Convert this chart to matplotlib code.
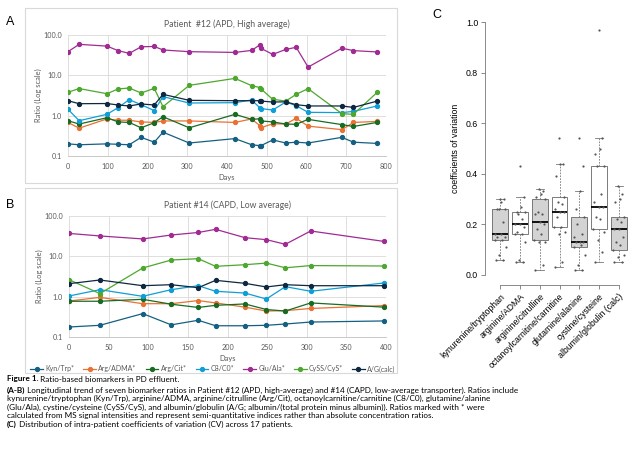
import numpy as np
import matplotlib
matplotlib.use("Agg")
import matplotlib.pyplot as plt
from matplotlib.ticker import FixedLocator, FixedFormatter, NullLocator

# ---- panel A: patient #12 (APD, high average) ----
days_a = [0, 28, 98, 126, 154, 184, 217, 239, 305, 420, 462, 484, 485, 515, 548, 574, 604, 689, 718, 778]
kyn_a = [0.20, 0.19, 0.20, 0.195, 0.19, 0.29, 0.22, 0.39, 0.21, 0.27, 0.19, 0.18, 0.18, 0.25, 0.21, 0.22, 0.21, 0.29, 0.22, 0.205]
adma_a = [0.68, 0.49, 0.83, 0.77, 0.77, 0.70, 0.68, 0.74, 0.74, 0.68, 0.83, 0.55, 0.50, 0.63, 0.62, 0.86, 0.55, 0.45, 0.68, 0.72]
cit_a = [0.75, 0.62, 0.89, 0.70, 0.68, 0.50, 0.67, 0.94, 0.50, 1.08, 0.81, 0.84, 0.74, 0.70, 0.62, 0.61, 0.81, 0.60, 0.54, 0.68]
c8_a = [1.44, 0.75, 1.08, 1.58, 2.50, 1.87, 1.33, 2.96, 2.06, 2.10, 2.45, 1.52, 1.50, 1.38, 2.18, 1.77, 1.21, 1.19, 1.28, 1.74]
glu_a = [38.6, 58.7, 53, 41, 35, 51, 52, 42.5, 38.6, 37, 41.5, 58, 47, 33, 44, 49.5, 16, 47, 41, 38]
cyss_a = [3.8, 4.7, 3.5, 4.6, 4.85, 3.65, 4.75, 1.67, 5.65, 8.4, 5.55, 4.95, 4.65, 2.54, 2.3, 3.38, 4.67, 1.12, 1.08, 3.8]
ag_a = [2.35, 1.98, 2.0, 1.84, 1.74, 1.95, 1.84, 3.38, 2.4, 2.35, 2.35, 2.35, 2.3, 2.18, 2.2, 1.87, 1.74, 1.74, 1.6, 2.3]

# ---- panel B: patient #14 (CAPD, low average) ----
days_b = [0, 39, 93, 129, 163, 185, 222, 249, 273, 305, 397]
kyn_b = [0.177, 0.195, 0.38, 0.20, 0.26, 0.19, 0.19, 0.195, 0.21, 0.235, 0.25]
adma_b = [0.78, 0.96, 0.67, 0.67, 0.80, 0.70, 0.55, 0.44, 0.45, 0.51, 0.60]
cit_b = [0.77, 0.77, 0.86, 0.65, 0.54, 0.61, 0.66, 0.48, 0.44, 0.70, 0.55]
c8_b = [1.04, 1.49, 1.02, 1.49, 1.87, 1.36, 1.23, 0.875, 1.77, 1.36, 2.18]
glu_b = [37, 32, 27, 33.8, 39, 46.7, 29, 25.9, 19.9, 42.5, 23.5]
cyss_b = [2.64, 1.19, 5.14, 8.1, 8.75, 5.65, 6.2, 6.8, 5.2, 5.9, 5.76]
ag_b = [2.1, 2.59, 1.87, 1.98, 1.67, 2.54, 2.14, 1.74, 1.98, 1.87, 1.87]

series_names = ["Kyn/Trp*", "Arg/ADMA*", "Arg/Cit*", "C8/C0*", "Glu/Ala*", "CySS/CyS*", "A/G(calc)"]
series_colors = ["#156082", "#E97132", "#196B24", "#0F9ED5", "#A02B93", "#4EA72E", "#0E2841"]

# ---- panel C: intra-patient CV, 17 patients ----
cv_labels = ["kynurenine/tryptophan", "arginine/ADMA", "arginine/citrulline",
             "octanoylcarnitine/carnitine", "glutamine/alanine", "cystine/cysteine",
             "albumin/globulin (calc)"]
cv_kyn = [0.06, 0.06, 0.08, 0.11, 0.14, 0.14, 0.15, 0.15, 0.16, 0.16, 0.21, 0.26, 0.26, 0.26, 0.29, 0.30, 0.30]
cv_adma = [0.05, 0.05, 0.06, 0.13, 0.16, 0.16, 0.17, 0.19, 0.20, 0.20, 0.22, 0.24, 0.25, 0.25, 0.27, 0.31, 0.43]
cv_cit = [0.02, 0.04, 0.13, 0.13, 0.14, 0.16, 0.18, 0.20, 0.21, 0.24, 0.24, 0.25, 0.30, 0.31, 0.32, 0.33, 0.34]
cv_c8 = [0.03, 0.05, 0.16, 0.17, 0.19, 0.19, 0.23, 0.25, 0.25, 0.26, 0.28, 0.29, 0.31, 0.39, 0.44, 0.44, 0.54]
cv_glu = [0.02, 0.02, 0.04, 0.08, 0.11, 0.12, 0.13, 0.13, 0.13, 0.15, 0.16, 0.20, 0.23, 0.26, 0.33, 0.43, 0.54]
cv_cys = [0.05, 0.09, 0.14, 0.17, 0.18, 0.22, 0.23, 0.27, 0.27, 0.29, 0.32, 0.43, 0.43, 0.48, 0.50, 0.54, 0.97]
cv_ag = [0.05, 0.05, 0.07, 0.08, 0.10, 0.12, 0.13, 0.15, 0.18, 0.18, 0.21, 0.22, 0.23, 0.29, 0.30, 0.32, 0.35]

W, H = 640, 459
fig = plt.figure(figsize=(W / 100, H / 100), dpi=100)
XL = ["Lato", "DejaVu Sans"]
RF = ["Liberation Sans", "DejaVu Sans"]


def px_axes(l, t, r, b):
    return fig.add_axes([l / W, 1 - b / H, (r - l) / W, (b - t) / H])


def frame(l, t, r, b):
    rect = plt.Rectangle((l / W, 1 - b / H), (r - l) / W, (b - t) / H, transform=fig.transFigure,
                         fill=False, edgecolor="#d9d9d9", linewidth=0.8)
    fig.add_artist(rect)


def excel_panel(ax, days, ys, xmax, xstep, title):
    for vals, name, col in zip(ys, series_names, series_colors):
        ax.plot(days, vals, color=col, lw=0.9, marker="o", ms=2.8, label=name)
    ax.set_yscale("log")
    ax.set_ylim(0.1, 100)
    ax.set_xlim(0, xmax)
    ax.yaxis.set_major_locator(FixedLocator([0.1, 1, 10, 100]))
    ax.yaxis.set_major_formatter(FixedFormatter(["0.1", "1.0", "10.0", "100.0"]))
    ax.yaxis.set_minor_locator(NullLocator())
    ax.set_xticks(np.arange(0, xmax + 1, xstep))
    ax.grid(True, color="#d9d9d9", lw=0.6)
    ax.set_axisbelow(True)
    for s in ["top", "right", "left"]:
        ax.spines[s].set_visible(False)
    ax.spines["bottom"].set_color("#bfbfbf")
    ax.spines["bottom"].set_linewidth(0.6)
    ax.tick_params(axis="y", length=0, labelsize=5.2, colors="#595959", pad=4.5)
    ax.tick_params(axis="x", length=0, labelsize=5.2, colors="#595959", pad=5)
    for lab in ax.get_xticklabels() + ax.get_yticklabels():
        lab.set_family(XL)
    ax.set_ylabel("Ratio (Log scale)", fontsize=5.4, color="#595959", family=XL, labelpad=1)
    ax.set_xlabel("Days", fontsize=5.4, color="#595959", family=XL, labelpad=3)
    ax.set_title(title, fontsize=6.2, color="#595959", family=XL, pad=6)


frame(25, 8, 397, 183)
frame(25, 188, 397, 373)

ax_a = px_axes(68, 35, 386, 156)
excel_panel(ax_a, days_a, [kyn_a, adma_a, cit_a, c8_a, glu_a, cyss_a, ag_a], 800, 100,
            "Patient  #12 (APD, High average)")
ax_b = px_axes(69, 216, 386, 337)
excel_panel(ax_b, days_b, [kyn_b, adma_b, cit_b, c8_b, glu_b, cyss_b, ag_b], 400, 50,
            "Patient #14 (CAPD, Low average)")
leg = ax_b.legend(loc="center", bbox_to_anchor=(213 / W, 1 - 369 / H), bbox_transform=fig.transFigure,
                  ncol=7, frameon=False, prop={"family": XL, "size": 5.0}, handlelength=1.8,
                  handletextpad=0.35, columnspacing=1.3, borderaxespad=0)
for t in leg.get_texts():
    t.set_color("#595959")

# ---- panel C ----
ax_c = px_axes(485, 12, 634, 285)
pos = np.arange(1, 8)
cv_all = [cv_kyn, cv_adma, cv_cit, cv_c8, cv_glu, cv_cys, cv_ag]
bp = ax_c.boxplot(cv_all, positions=pos, widths=0.8, patch_artist=True, showfliers=False,
                  whis=1.5, capwidths=0.4,
                  medianprops=dict(color="black", lw=1.3),
                  whiskerprops=dict(color="#777777", lw=0.6, linestyle=(0, (2, 1.5))),
                  capprops=dict(color="#777777", lw=0.6),
                  boxprops=dict(edgecolor="#666666", lw=0.6))
for i, patch in enumerate(bp["boxes"]):
    patch.set_facecolor("#d3d3d3" if i % 2 == 0 else "white")
jitter = [-0.22, 0.15, -0.05, 0.27, -0.28, 0.08, -0.15, 0.21, 0.02, -0.25, 0.12, -0.09, 0.25, -0.18, 0.05, 0.18, -0.02]
for p, vals in zip(pos, cv_all):
    ax_c.scatter(p + np.array(jitter), vals, s=2.5, color="#555555", lw=0, zorder=3)
ax_c.set_xlim(0.22, 7.78)
ax_c.set_ylim(-0.04, 1.04)
for s in ["top", "right"]:
    ax_c.spines[s].set_visible(False)
ax_c.spines["left"].set_bounds(0, 1)
ax_c.spines["bottom"].set_bounds(1, 7)
for s in ["left", "bottom"]:
    ax_c.spines[s].set_color("#777777")
    ax_c.spines[s].set_linewidth(0.6)
ax_c.set_yticks(np.arange(0, 1.01, 0.2))
ax_c.set_yticklabels([f"{v:.1f}" for v in np.arange(0, 1.01, 0.2)])
ax_c.set_xticks(pos)
ax_c.set_xticklabels(cv_labels, rotation=45, ha="right", rotation_mode="anchor")
ax_c.tick_params(length=3, width=0.6, color="#777777", labelsize=6.3, pad=2)
for lab in ax_c.get_xticklabels() + ax_c.get_yticklabels():
    lab.set_family(RF)
ax_c.set_ylabel("coefficients of variation", fontsize=6.3, family=RF, labelpad=4)

# panel letters
fig.text(6 / W, 1 - 22 / H, "A", fontsize=9, family=RF, va="center")
fig.text(6 / W, 1 - 205 / H, "B", fontsize=9, family=RF, va="center")
fig.text(432 / W, 1 - 15 / H, "C", fontsize=9, family=RF, va="center")

# caption
renderer = fig.canvas.get_renderer()
cap_size = 5.85


def rich_line(ypx, parts):
    x = 7 / W
    for txt, bold in parts:
        t = fig.text(x, 1 - ypx / H, txt, fontsize=cap_size, family=XL,
                     fontweight="bold" if bold else "normal", va="center", ha="left")
        x = t.get_window_extent(renderer).x1 / fig.bbox.width


rich_line(379, [("Figure 1.", True), (" Ratio-based biomarkers in PD effluent.", False)])
rich_line(390, [("(A-B)", True), (" Longitudinal trend of seven biomarker ratios in Patient #12 (APD, high-average) and #14 (CAPD, low-average transporter). Ratios include", False)])
rich_line(398.5, [("kynurenine/tryptophan (Kyn/Trp), arginine/ADMA, arginine/citrulline (Arg/Cit), octanoylcarnitine/carnitine (C8/C0), glutamine/alanine", False)])
rich_line(407, [("(Glu/Ala), cystine/cysteine (CySS/CyS), and albumin/globulin (A/G; albumin/(total protein minus albumin)). Ratios marked with * were", False)])
rich_line(415.5, [("calculated from MS signal intensities and represent semi-quantitative indices rather than absolute concentration ratios.", False)])
rich_line(424, [("(C)", True), (" Distribution of intra-patient coefficients of variation (CV) across 17 patients.", False)])

fig.savefig("out.png", dpi=100)
